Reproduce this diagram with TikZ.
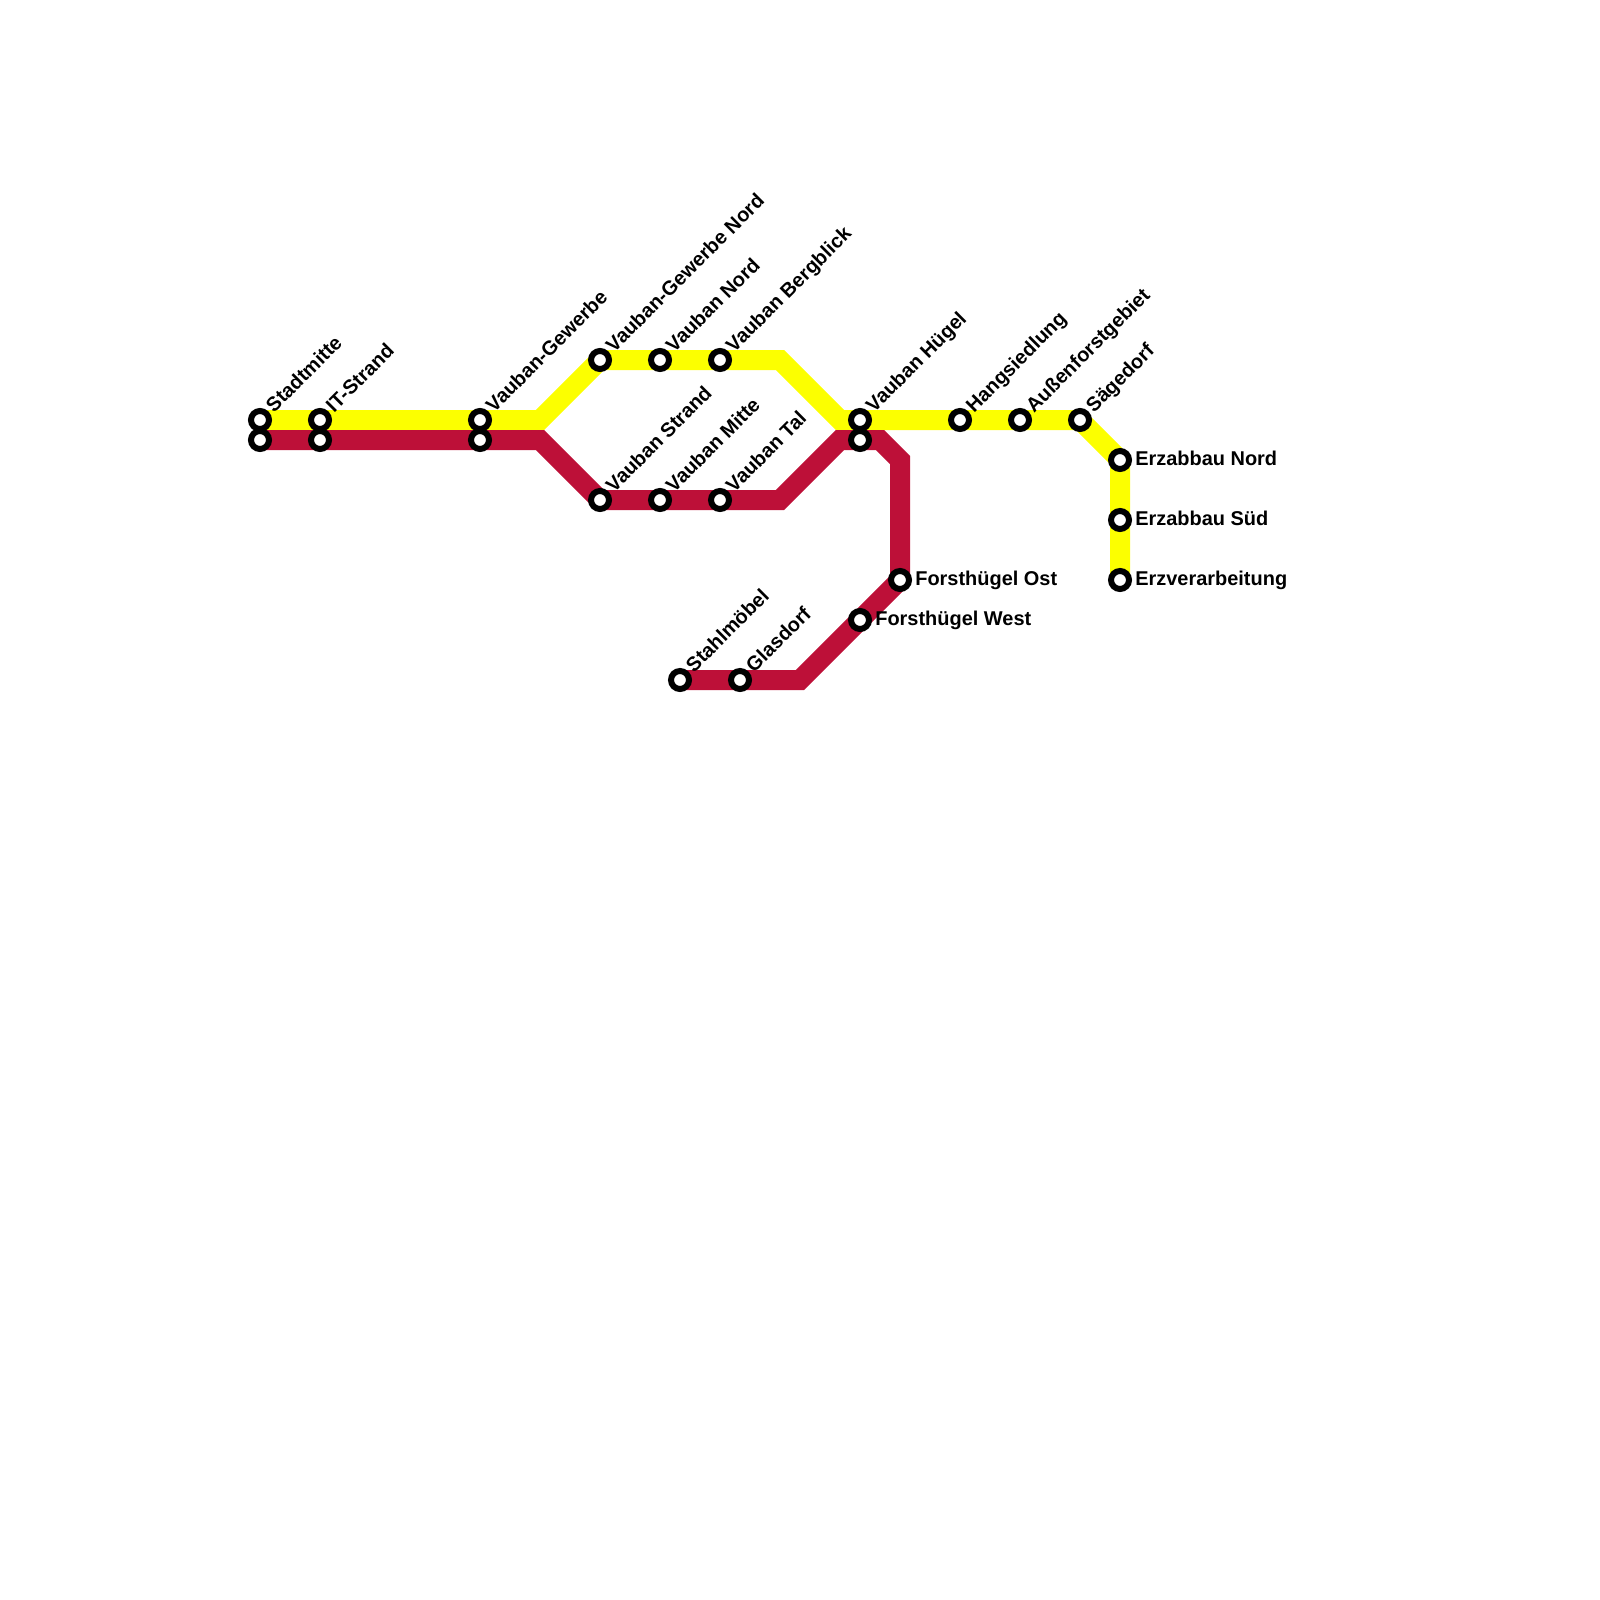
\documentclass[tikz,border=0pt]{standalone}
\usepackage{fontspec}
\setmainfont{Liberation Sans}
\usetikzlibrary{backgrounds}
\definecolor{lineyellow}{HTML}{FCFF00}
\definecolor{linered}{HTML}{BD1038}
\tikzset{
  station/.style={circle,draw=black,fill=white,line width=6pt,minimum size=18pt,inner sep=0pt,outer sep=0pt},
  metro/.style={line width=20pt,line join=miter,line cap=butt},
  lbl/.style={font=\fontsize{19.95}{22}\selectfont\bfseries,text=black,inner sep=0pt,outer sep=0pt,anchor=base west},
  lblr/.style={lbl,rotate=45},
}
\newcommand{\stn}[4]{% name, x, y, text rotated
  \node[station] (#1) at (#2,#3) {};
  \node[lblr] (#1l) at ([shift={(14.2,-6.6)}]#1.center) {#4};
}
\newcommand{\sth}[4]{% name, x, y, text horizontal
  \node[station] (#1) at (#2,#3) {};
  \node[lbl] (#1l) at ([shift={(15.3,5.5)}]#1.center) {#4};
}
\begin{document}
\begin{tikzpicture}[x=1pt,y=-1pt]
\useasboundingbox (0,0) rectangle (1600,1600);
% yellow stations
\stn{ya}{260}{420}{Stadtmitte}
\stn{yb}{320}{420}{IT-Strand}
\stn{yc}{480}{420}{Vauban-Gewerbe}
\stn{yd}{600}{360}{Vauban-Gewerbe Nord}
\stn{ye}{660}{360}{Vauban Nord}
\stn{yf}{720}{360}{Vauban Bergblick}
\stn{yg}{860}{420}{Vauban Hügel}
\stn{yh}{960}{420}{Hangsiedlung}
\stn{yi}{1020}{420}{Außenforstgebiet}
\stn{yj}{1080}{420}{Sägedorf}
\sth{yk}{1120}{460}{Erzabbau Nord}
\sth{yl}{1120}{520}{Erzabbau Süd}
\sth{ym}{1120}{580}{Erzverarbeitung}
% red stations
\node[station] (ra) at (260,440) {};
\node[station] (rb) at (320,440) {};
\node[station] (rc) at (480,440) {};
\stn{rd}{600}{500}{Vauban Strand}
\stn{re}{660}{500}{Vauban Mitte}
\stn{rf}{720}{500}{Vauban Tal}
\node[station] (rg) at (860,440) {};
\sth{rh}{900}{580}{Forsthügel Ost}
\sth{ri}{860}{620}{Forsthügel West}
\stn{rj}{740}{680}{Glasdorf}
\stn{rk}{680}{680}{Stahlmöbel}
% bends
\coordinate (yb1) at (540,420);
\coordinate (yb2) at (780,360);
\coordinate (yb3) at (840,420);
\coordinate (rb1) at (540,440);
\coordinate (rb2) at (780,500);
\coordinate (rb3) at (840,440);
\coordinate (rb4) at (880,440);
\coordinate (rb5) at (900,460);
\coordinate (rb6) at (800,680);
\begin{pgfonlayer}{background}
\draw[metro,lineyellow] (ya.center) -- (yb.center) -- (yc.center) -- (yb1) -- (yd.center) -- (ye.center) -- (yf.center) -- (yb2) -- (yb3) -- (yg.center) -- (yh.center) -- (yi.center) -- (yj.center) -- (yk.center) -- (yl.center) -- (ym.center);
\draw[metro,linered] (ra.center) -- (rb.center) -- (rc.center) -- (rb1) -- (rd.center) -- (re.center) -- (rf.center) -- (rb2) -- (rb3) -- (rg.center) -- (rb4) -- (rb5) -- (rh.center) -- (ri.center) -- (rb6) -- (rj.center) -- (rk.center);
\end{pgfonlayer}
\end{tikzpicture}
\end{document}
